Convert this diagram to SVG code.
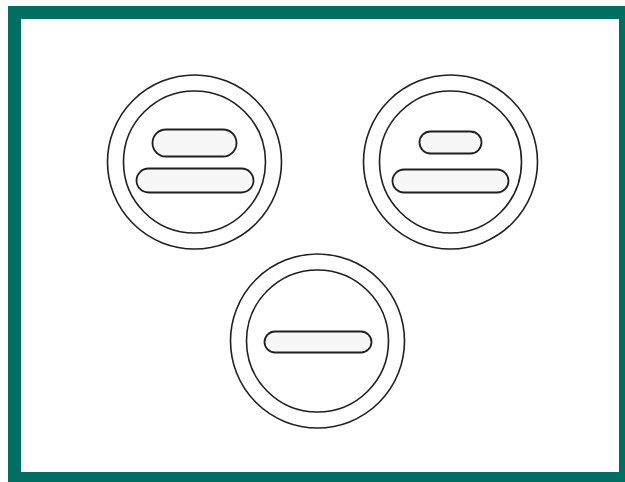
<svg xmlns="http://www.w3.org/2000/svg" width="625" height="482" viewBox="0 0 625 482">
<style>
.ring{fill:none;stroke:#1f1f1f;stroke-width:1.6}
.pill{fill:#f7f7f7;stroke:#1f1f1f;stroke-width:1.8}
</style>
<rect width="625" height="482" fill="#fff"/>
<rect x="14.5" y="12.5" width="611" height="466" fill="none" stroke="#006e63" stroke-width="13"/>
<g id="node-left">
<circle class="ring" cx="194.5" cy="162" r="87"/>
<circle class="ring" cx="194.5" cy="162" r="71"/>
<rect class="pill" x="152.5" y="129.5" width="84" height="27" rx="13.5"/>
<rect class="pill" x="136.5" y="168.5" width="117" height="24" rx="12"/>
</g>
<g id="node-right">
<circle class="ring" cx="450.5" cy="162" r="87"/>
<circle class="ring" cx="450.5" cy="162" r="71"/>
<rect class="pill" x="419.5" y="131.5" width="62" height="22" rx="11"/>
<rect class="pill" x="392.5" y="169.5" width="116" height="23" rx="11.5"/>
</g>
<g id="node-bottom">
<circle class="ring" cx="317.5" cy="341" r="87"/>
<circle class="ring" cx="317.5" cy="341" r="71"/>
<rect class="pill" x="264.5" y="331.5" width="107" height="21" rx="10.5"/>
</g>
<g id="connectors"></g>
</svg>
